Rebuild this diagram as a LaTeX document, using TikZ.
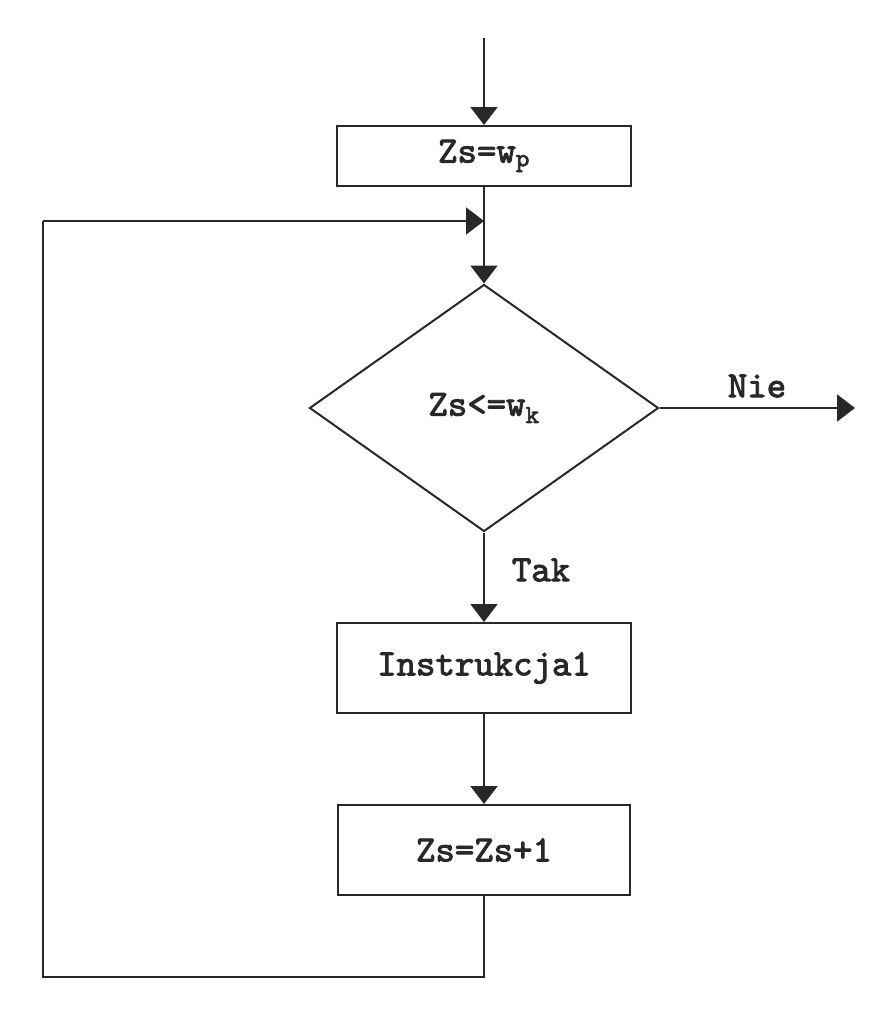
\documentclass[tikz,border=0pt]{standalone}
\usepackage{fontspec}
\newfontfamily\courb{lmmono10-regular}[Extension=.otf, FakeBold=2.5]
\usetikzlibrary{shapes.geometric,arrows.meta}
\definecolor{ink}{RGB}{40,40,40}
\begin{document}
\begin{tikzpicture}[x=1pt,y=-1pt,
  ln/.style={line width=2pt, draw=ink},
  arr/.style={ln, -{Triangle[length=18pt,width=27pt]}},
  txt/.style={font=\fontsize{37}{44}\selectfont\courb, text=ink},
  box/.style={rectangle, draw=ink, line width=2pt, inner sep=0pt, txt}]
\fill[white] (0,0) rectangle (880,1010);
\useasboundingbox (0,0) rectangle (880,1010);

\coordinate (start) at (484,38);
\node[box, minimum width=294pt, minimum height=60pt] (b1) at (484,156) {Zs=w\textsubscript{p}};
\coordinate (j) at (484,221);
\node[diamond, draw=ink, line width=2pt, inner sep=0pt, minimum width=349pt, minimum height=247pt, txt] (d) at (484,408) {Zs<=w\textsubscript{k}};
\node[box, minimum width=294pt, minimum height=90pt] (b2) at (484,668) {Instrukcja1};
\node[box, minimum width=292pt, minimum height=90pt] (b3) at (484,850) {Zs=Zs+1};
\coordinate (c1) at (484,977);
\coordinate (c2) at (43,977);
\coordinate (c3) at (43,221);
\coordinate (e) at (855,408);

\draw[arr] (start) -- (b1.north);
\draw[ln] (b1.south) -- (j);
\draw[arr] (j) -- (d.north);
\draw[arr] (d.east) -- (e);
\node[txt] (nie) at (757,386) {Nie};
\draw[arr] (d.south) -- (b2.north);
\node[txt] (tak) at (541,570) {Tak};
\draw[arr] (b2.south) -- (b3.north);
\draw[ln] (b3.south) -- (c1) -- (c2) -- (c3);
\draw[arr] (c3) -- (j);
\end{tikzpicture}
\end{document}
